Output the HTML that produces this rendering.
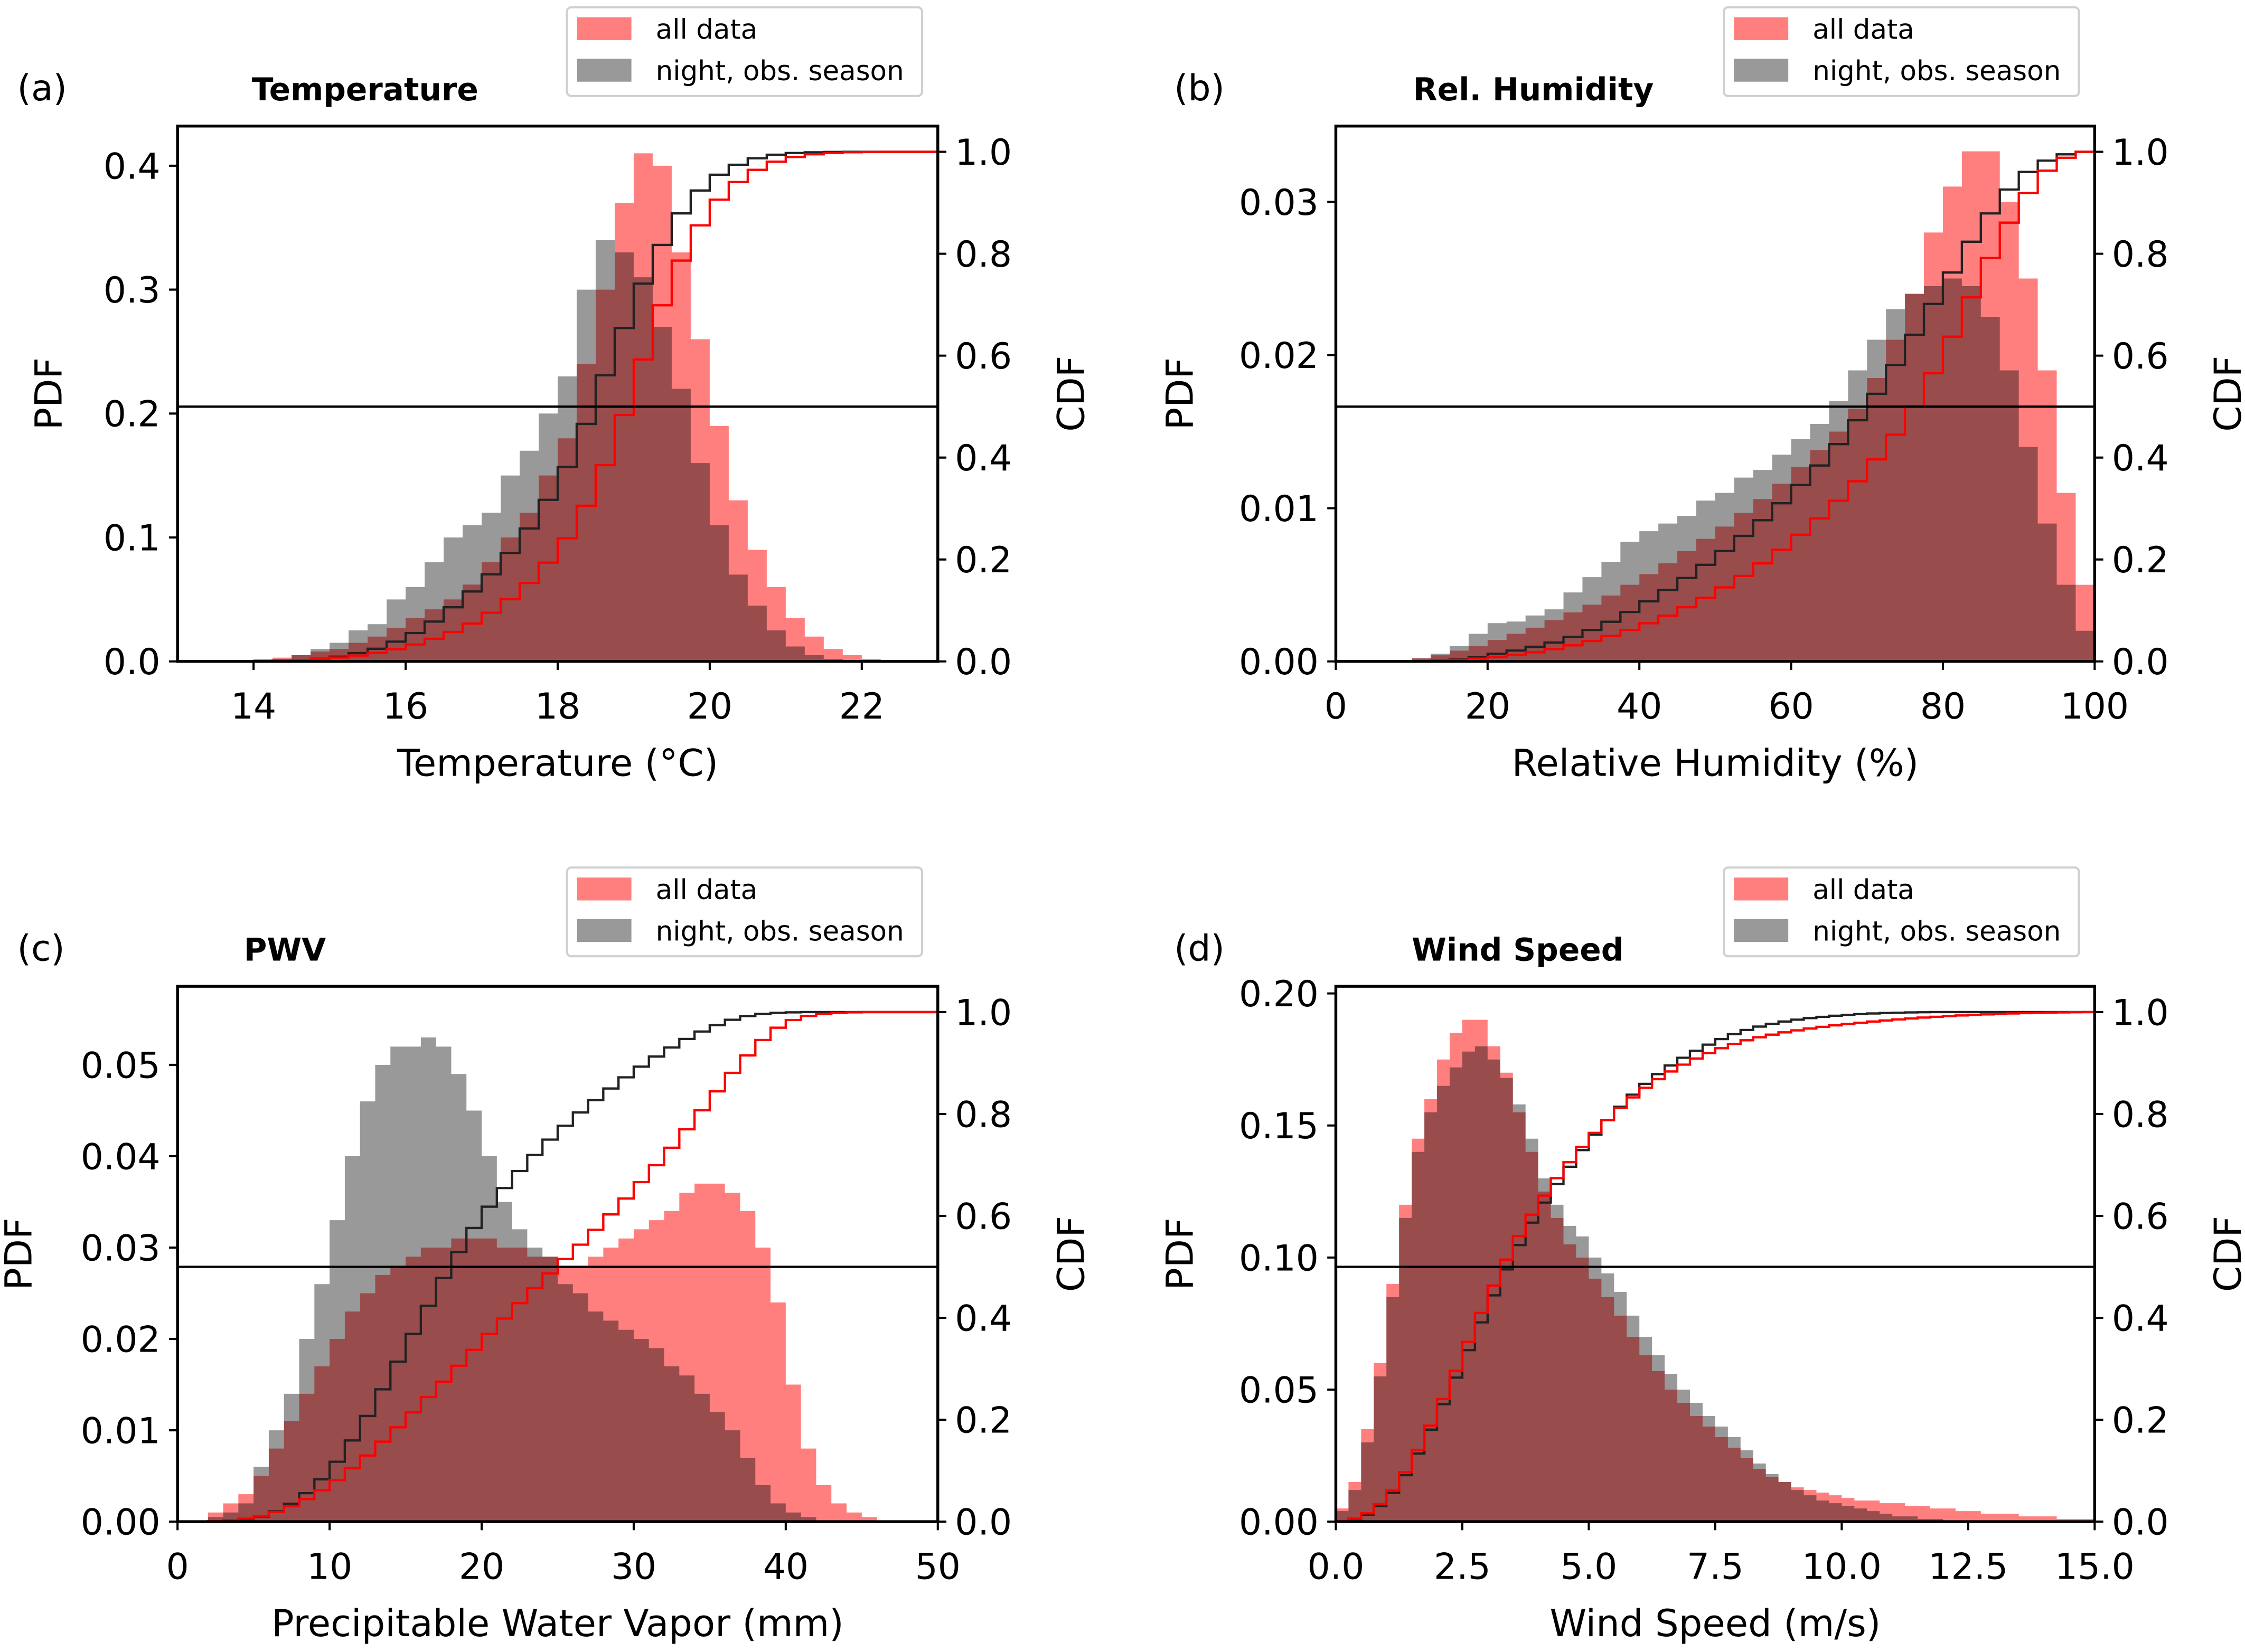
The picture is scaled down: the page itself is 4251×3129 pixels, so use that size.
<!DOCTYPE html>
<html><head><meta charset="utf-8"><style>
html,body{margin:0;padding:0;background:#fff;}
svg{display:block;font-family:"DejaVu Sans","Liberation Sans",sans-serif;}
</style></head><body>
<svg id="fig" width="4251" height="3129" viewBox="0 0 1568 1154" xmlns="http://www.w3.org/2000/svg"></svg>
<script>
// ---- Data ----
const tempStart = 14.0, tempWidth = 0.25;
const tempAll = [0.002,0.003,0.005,0.008,0.01,0.015,0.02,0.027,0.035,0.042,0.05,0.062,0.08,0.1,0.12,0.15,0.18,0.24,0.30,0.37,0.41,0.40,0.33,0.26,0.19,0.13,0.09,0.06,0.035,0.02,0.01,0.005,0.002,0.001];
const tempNight = [0.001,0.002,0.005,0.01,0.015,0.025,0.03,0.05,0.06,0.08,0.10,0.11,0.12,0.15,0.17,0.20,0.23,0.30,0.34,0.33,0.31,0.27,0.22,0.16,0.11,0.07,0.045,0.025,0.012,0.005,0.002,0.001];
const tempTicksX = [14,16,18,20,22];
const tempTicksY = [0.0,0.1,0.2,0.3,0.4];

const rhStart = 10, rhWidth = 2.5;
const rhAll = [0.0002,0.0004,0.0007,0.001,0.0014,0.0018,0.0022,0.0027,0.0032,0.0037,0.0043,0.005,0.0057,0.0064,0.0072,0.008,0.0088,0.0097,0.0106,0.0116,0.0127,0.0138,0.015,0.0165,0.0185,0.021,0.024,0.028,0.031,0.0333,0.0333,0.030,0.025,0.019,0.011,0.005];
const rhNight = [0.0002,0.0005,0.001,0.0018,0.0025,0.0026,0.003,0.0034,0.0045,0.0055,0.0065,0.0078,0.0085,0.009,0.0095,0.0105,0.011,0.012,0.0125,0.0135,0.0145,0.0155,0.017,0.019,0.021,0.023,0.024,0.0245,0.025,0.0245,0.0225,0.019,0.014,0.009,0.005,0.002];
const rhTicksX = [0,20,40,60,80,100];
const rhTicksY = [0.00,0.01,0.02,0.03];

const pwvStart = 2, pwvWidth = 1;
const pwvAll = [0.001,0.002,0.003,0.005,0.008,0.011,0.014,0.017,0.020,0.023,0.025,0.027,0.028,0.029,0.030,0.030,0.031,0.031,0.031,0.030,0.030,0.029,0.029,0.028,0.028,0.029,0.030,0.031,0.032,0.033,0.034,0.036,0.037,0.037,0.036,0.034,0.030,0.024,0.015,0.008,0.004,0.002,0.001,0.0005];
const pwvNight = [0.0005,0.001,0.002,0.006,0.010,0.014,0.020,0.026,0.033,0.040,0.046,0.050,0.052,0.052,0.053,0.052,0.049,0.045,0.040,0.035,0.032,0.030,0.029,0.026,0.025,0.023,0.022,0.021,0.020,0.019,0.017,0.016,0.014,0.012,0.010,0.007,0.004,0.002,0.001,0.0005];
const pwvTicksX = [0,10,20,30,40,50];
const pwvTicksY = [0.00,0.01,0.02,0.03,0.04,0.05];

const windStart = 0, windWidth = 0.25;
const windAll = [0.005,0.015,0.035,0.06,0.09,0.12,0.145,0.16,0.175,0.185,0.19,0.19,0.18,0.17,0.155,0.14,0.125,0.115,0.105,0.10,0.092,0.085,0.078,0.07,0.063,0.057,0.05,0.045,0.04,0.036,0.032,0.028,0.024,0.02,0.017,0.015,0.013,0.012,0.011,0.01,0.009,0.008,0.008,0.007,0.007,0.006,0.006,0.005,0.005,0.004,0.004,0.003,0.003,0.003,0.002,0.002,0.002,0.001,0.001,0.001];
const windNight = [0.004,0.012,0.03,0.055,0.085,0.115,0.14,0.155,0.165,0.172,0.178,0.18,0.175,0.168,0.158,0.145,0.13,0.12,0.112,0.108,0.1,0.094,0.087,0.078,0.07,0.063,0.056,0.05,0.045,0.04,0.036,0.032,0.027,0.022,0.018,0.015,0.012,0.01,0.008,0.007,0.006,0.005,0.004,0.003,0.002,0.002,0.001,0.001];
const windTicksX = [0,2.5,5,7.5,10,12.5,15];
const windTicksY = [0.00,0.05,0.10,0.15,0.20];
const cdfTicks = [0.0,0.2,0.4,0.6,0.8,1.0];

const NS = "http://www.w3.org/2000/svg";
const svg = document.getElementById('fig');
function mk(tag, attrs, parent){ const e=document.createElementNS(NS,tag); for(const k in attrs) e.setAttribute(k,attrs[k]); (parent||svg).appendChild(e); return e; }

function panel(o){
  const g = mk('g',{});
  
  
  const L=o.box[0], R=o.box[1], T=o.box[2], B=o.box[3];
  const xs = v => L + (v - o.xmin)/(o.xmax - o.xmin)*(R-L);
  const ys = v => B - v/o.ymax*(B-T);
  const cy = v => B - v*(B - o.cdfTop);
  const clipId = 'clip-'+o.id;
  const cp = mk('clipPath',{id:clipId},g); mk('rect',{x:L,y:T,width:R-L,height:B-T},cp);
  const plot = mk('g',{'clip-path':'url(#'+clipId+')'},g);
  function hist(vals, color, op, name){
    let d = 'M'+xs(o.start)+','+B;
    vals.forEach((v,i)=>{ const x0=xs(o.start+i*o.w), x1=xs(o.start+(i+1)*o.w); d+=' L'+x0+','+ys(v)+' L'+x1+','+ys(v); });
    d += ' L'+xs(o.start+vals.length*o.w)+','+B+' Z';
    const p = mk('path',{d:d,fill:color,'fill-opacity':op},plot);
    
    
  }
  function cdf(vals, color, name){
    const tot = vals.reduce((a,b)=>a+b,0); let c=0;
    let d = 'M'+L+','+cy(0)+' L'+xs(o.start)+','+cy(0);
    vals.forEach((v,i)=>{ c+=v; const x0=xs(o.start+i*o.w), x1=xs(o.start+(i+1)*o.w); d+=' L'+x0+','+cy(c/tot)+' L'+x1+','+cy(c/tot); });
    d += ' L'+R+','+cy(1);
    const p = mk('path',{d:d,fill:'none',stroke:color,'stroke-width':1.6},plot);
    
    
  }
  hist(o.all,'#ff0000',0.5,o.id+'-hist-all');
  hist(o.night,'#000000',0.4,o.id+'-hist-night');
  cdf(o.night,'#222222',o.id+'-cdf-night');
  cdf(o.all,'#ff0000',o.id+'-cdf-all');
  const hl = mk('line',{x1:L,x2:R,y1:cy(0.5),y2:cy(0.5),stroke:'#000','stroke-width':1.6},g);
  
  
  const fr = mk('rect',{x:L,y:T,width:R-L,height:B-T,fill:'none',stroke:'#000','stroke-width':2},g);
  
  
  o.tx.forEach(v=>{
    mk('line',{x1:xs(v),x2:xs(v),y1:B,y2:B+6,stroke:'#000','stroke-width':1.5},g);
    const t=mk('text',{x:xs(v),y:B+40,'text-anchor':'middle','font-size':25},g); t.textContent=o.fx(v);
    
    
  });
  o.ty.forEach(v=>{
    mk('line',{x1:L-6,x2:L,y1:ys(v),y2:ys(v),stroke:'#000','stroke-width':1.5},g);
    const t=mk('text',{x:L-12,y:ys(v)+9,'text-anchor':'end','font-size':25},g); t.textContent=o.fy(v);
    
    
  });
  cdfTicks.forEach(v=>{
    mk('line',{x1:R,x2:R+6,y1:cy(v),y2:cy(v),stroke:'#000','stroke-width':1.5},g);
    const t=mk('text',{x:R+12,y:cy(v)+9,'font-size':25},g); t.textContent=v.toFixed(1);
    
    
  });
  const xl=mk('text',{x:(L+R)/2,y:B+80,'text-anchor':'middle','font-size':26},g); xl.textContent=o.xlabel;
  
  
  const yl=mk('text',{x:0,y:0,'text-anchor':'middle','font-size':26,transform:'translate('+(o.pdfX)+','+((T+B)/2)+') rotate(-90)'},g); yl.textContent='PDF';
  
  
  const y2=mk('text',{x:0,y:0,'text-anchor':'middle','font-size':26,transform:'translate('+(R+102)+','+((T+B)/2)+') rotate(-90)'},g); y2.textContent='CDF';
  
  
  const ti=mk('text',{x:o.titleX,y:T-18,'font-size':22,'font-weight':'bold','text-anchor':'middle'},g); ti.textContent=o.title;
  
  
  const pl=mk('text',{x:o.labX,y:T-18,'font-size':25},g); pl.textContent=o.lab;
  
  
  // legend
  const lg=mk('g',{},g);
  
  
  const lx=R-259, ly=T-83;
  mk('rect',{x:lx,y:ly,width:248,height:62,rx:3,fill:'#fff',stroke:'#d0d0d0','stroke-width':1.5},lg);
  mk('rect',{x:lx+7,y:ly+7,width:38,height:16,fill:'#ff0000','fill-opacity':0.5},lg);
  mk('rect',{x:lx+7,y:ly+36,width:38,height:16,fill:'#000','fill-opacity':0.4},lg);
  const l1=mk('text',{x:lx+62,y:ly+22,'font-size':19},lg); l1.textContent='all data';
  
  
  const l2=mk('text',{x:lx+62,y:ly+51,'font-size':19},lg); l2.textContent='night, obs. season';
  
  
}
const f1 = v=>v.toFixed(1), f2=v=>v.toFixed(2), f0=v=>String(v);
panel({id:'temperature',box:[124,655,88,462],xmin:13,xmax:23,ymax:0.432,cdfTop:106,start:tempStart,w:tempWidth,all:tempAll,night:tempNight,tx:tempTicksX,ty:tempTicksY,fx:f0,fy:f1,xlabel:'Temperature (°C)',title:'Temperature',titleX:255,lab:'(a)',labX:12,pdfX:43});
panel({id:'humidity',box:[933,1463,88,462],xmin:0,xmax:100,ymax:0.03495,cdfTop:106,start:rhStart,w:rhWidth,all:rhAll,night:rhNight,tx:rhTicksX,ty:rhTicksY,fx:f0,fy:f2,xlabel:'Relative Humidity (%)',title:'Rel. Humidity',titleX:1071,lab:'(b)',labX:820,pdfX:833});
panel({id:'pwv',box:[124,655,689,1063],xmin:0,xmax:50,ymax:0.0586,cdfTop:707,start:pwvStart,w:pwvWidth,all:pwvAll,night:pwvNight,tx:pwvTicksX,ty:pwvTicksY,fx:f0,fy:f2,xlabel:'Precipitable Water Vapor (mm)',title:'PWV',titleX:199,lab:'(c)',labX:12,pdfX:22});
panel({id:'wind',box:[933,1463,689,1063],xmin:0,xmax:15,ymax:0.2027,cdfTop:707,start:windStart,w:windWidth,all:windAll,night:windNight,tx:windTicksX,ty:windTicksY,fx:f1,fy:f2,xlabel:'Wind Speed (m/s)',title:'Wind Speed',titleX:1060,lab:'(d)',labX:820,pdfX:833});
</script>
</body></html>
